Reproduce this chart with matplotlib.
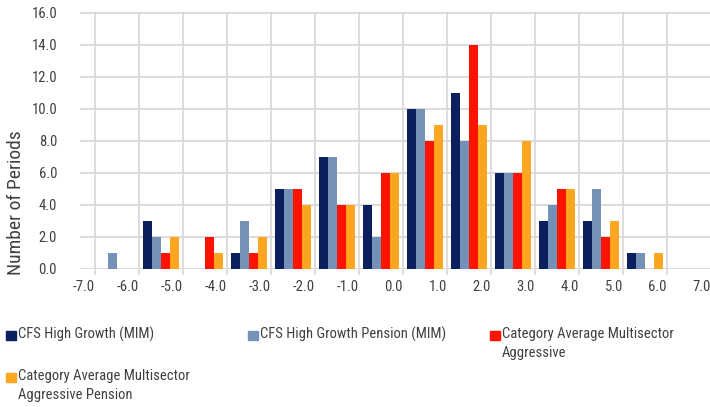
import matplotlib
matplotlib.use("Agg")
import matplotlib.pyplot as plt
from matplotlib.patches import Rectangle
import numpy as np

# ---- data ----
bin_starts = [-7, -6, -5, -4, -3, -2, -1, 0, 1, 2, 3, 4, 5, 6]
tick_values = [-7, -6, -5, -4, -3, -2, -1, 0, 1, 2, 3, 4, 5, 6, 7]
series_names = [
    "CFS High Growth (MIM)",
    "CFS High Growth Pension (MIM)",
    "Category Average Multisector\nAggressive",
    "Category Average Multisector\nAggressive Pension",
]
cfs_high_growth = [0, 3, 0, 1, 5, 7, 4, 10, 11, 6, 3, 3, 1, 0]
cfs_high_growth_pension = [1, 2, 0, 3, 5, 7, 2, 10, 8, 6, 4, 5, 1, 0]
cat_avg_aggressive = [0, 1, 2, 1, 5, 4, 6, 8, 14, 6, 5, 2, 0, 0]
cat_avg_aggressive_pension = [0, 2, 1, 2, 4, 4, 6, 9, 9, 8, 5, 3, 1, 0]
y_ticks = [0, 2, 4, 6, 8, 10, 12, 14, 16]

colors = ["#0c1f5e", "#7491b8", "#ff1300", "#ffa621"]
series = [cfs_high_growth, cfs_high_growth_pension, cat_avg_aggressive, cat_avg_aggressive_pension]

plt.rcParams["font.family"] = ["Roboto Condensed", "DejaVu Sans"]

TXT = "#404040"
GRID = "#d9d9d9"

W, H = 710, 407
fig = plt.figure(figsize=(W / 100, H / 100), dpi=100)
ax = fig.add_axes([80 / W, 1 - 269 / H, (711 - 80) / W, (269 - 12) / H])

bw = 0.205
centers = np.array(bin_starts) + 0.5
for i, (vals, c) in enumerate(zip(series, colors)):
    ax.bar(centers + (i - 1.5) * bw, vals, width=bw, color=c, zorder=3, linewidth=0)

ax.set_xlim(-7.34, 7.0)
ax.set_ylim(0, 16.06)
ax.set_yticks(y_ticks)
ax.set_yticklabels([f"{v:.1f}" for v in y_ticks], fontsize=10.5, color=TXT)
ax.set_xticks(tick_values)
ax.set_xticklabels([f"{v:.1f}" for v in tick_values], fontsize=10.5, color=TXT, ha="right")
ax.tick_params(axis="y", length=0, pad=16.5)
ax.tick_params(axis="x", length=4, width=1.2, color=GRID, pad=4)
ax.grid(True, color=GRID, linewidth=1.3, zorder=0)
ax.set_axisbelow(True)
for s in ax.spines.values():
    s.set_visible(False)

fig.text(16 / W, 1 - 203 / H, "Number of Periods", rotation=90, ha="center", va="center",
         fontsize=14, color=TXT)

# legend
leg_pos = [(6, 336), (248, 336), (490, 336), (6, 378)]
for (lx, ly), name, c in zip(leg_pos, series_names, colors):
    fig.patches.append(Rectangle((lx / W, 1 - (ly + 4) / H), 10 / W, 9 / H,
                                 transform=fig.transFigure, color=c, figure=fig))
    fig.text((lx + 12) / W, 1 - (ly - 9) / H, name, ha="left", va="top", fontsize=10.5,
             color=TXT, linespacing=1.45)

fig.savefig("out.png", dpi=100)
